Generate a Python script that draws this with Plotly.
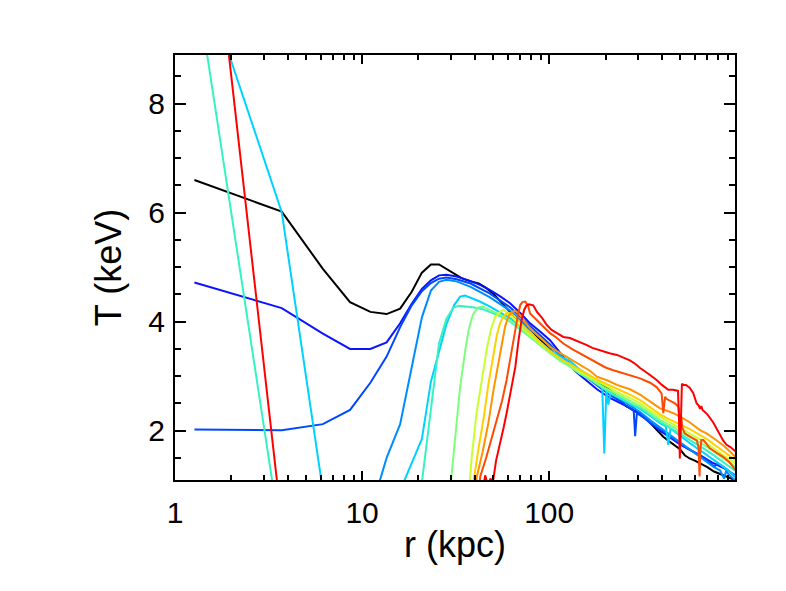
import plotly.graph_objects as go

# radial temperature profiles, r in kpc, T in keV
r_black = [1.27, 3.72, 6.17, 8.62, 11.07, 13.52, 15.97, 18.42, 20.87, 23.32, 25.77, 28.2, 31, 34, 38, 42, 46, 50,
           56, 64, 72, 80, 90, 101, 114, 128, 146, 165, 187, 205, 220, 240, 258, 280, 306, 340, 375, 407, 440,
           470, 500, 530, 563, 600, 640, 700, 760, 830, 900, 990]
t_black = [6.60, 6.02, 4.97, 4.36, 4.18, 4.14, 4.24, 4.55, 4.90, 5.05, 5.05, 4.97, 4.88, 4.80, 4.74, 4.70, 4.62, 4.52,
           4.34, 4.12, 3.98, 3.84, 3.66, 3.50, 3.32, 3.20, 3.06, 2.98, 2.88, 2.78, 2.69, 2.56, 2.45, 2.38, 2.31, 2.17,
           2.02, 1.89, 1.80, 1.72, 1.66, 1.55, 1.49, 1.45, 1.40, 1.33, 1.25, 1.20, 1.15, 1.09]

r_blue1 = [1.27, 3.72, 6.17, 8.62, 11.07, 13.52, 15.97, 18.42, 20.87, 23.32, 25.77, 28.2, 32, 37.8, 43, 48.3, 55,
           61.8, 70, 79, 90, 101, 115, 129, 140, 160, 180, 211, 240, 270, 306, 350, 391, 450, 500, 570, 640, 740,
           850, 990]
t_blue1 = [4.72, 4.25, 3.78, 3.50, 3.50, 3.62, 3.97, 4.33, 4.60, 4.76, 4.85, 4.86, 4.83, 4.75, 4.67, 4.58, 4.46,
           4.34, 4.16, 3.97, 3.81, 3.66, 3.42, 3.20, 3.07, 2.90, 2.76, 2.60, 2.50, 2.42, 2.30, 2.13, 2.00, 1.86,
           1.75, 1.64, 1.55, 1.42, 1.32, 1.18]

r_blue2 = [1.27, 3.72, 6.17, 8.62, 11.07, 13.52, 15.97, 18.42, 20.87, 23.32, 25.77, 28.2, 32, 38, 48, 62, 79, 101,
           130, 155, 180, 210, 240, 270, 283, 288, 294, 320, 350, 391, 450, 500, 560, 640, 700, 760, 800, 900, 990]
t_blue2 = [2.02, 2.01, 2.12, 2.38, 2.88, 3.36, 3.90, 4.30, 4.56, 4.71, 4.79, 4.81, 4.78, 4.70, 4.52, 4.26, 3.92,
           3.58, 3.20, 3.00, 2.82, 2.66, 2.54, 2.40, 2.36, 1.90, 2.32, 2.24, 2.13, 2.03, 1.88, 1.76, 1.66, 1.54,
           1.46, 1.34, 1.40, 1.28, 1.15]

r_lblue = [11.07, 13.52, 15.97, 18.42, 20.87, 23.32, 25.77, 28.2, 32, 38, 48, 62, 79, 101, 130, 155, 180, 210, 240,
           270, 306, 350, 391, 430, 470, 520, 580, 640, 700, 760, 820, 860, 880, 920, 990]
t_lblue = [0.5, 1.50, 2.12, 3.15, 4.08, 4.57, 4.73, 4.77, 4.74, 4.64, 4.45, 4.20, 3.86, 3.55, 3.22, 3.02, 2.86,
           2.70, 2.58, 2.46, 2.34, 2.18, 2.06, 1.96, 1.86, 1.74, 1.62, 1.52, 1.42, 1.33, 1.27, 1.12, 1.25, 1.18, 1.08]

r_cyan = [1.27, 3.72, 6.17, 8.62, 11.07, 13.52, 15.97, 18.42, 20.87, 23.32, 25.77, 28.2, 31, 33.4, 35.5, 38, 42, 48,
          55, 62, 70, 79, 90, 101, 115, 129, 146, 165, 185, 192, 197, 202, 207, 213, 230, 260, 306, 350, 391, 420,
          433, 445, 500, 570, 640, 700, 760, 850, 990]
t_cyan = [10.8, 6.01, 0.9, 0.0, 0.0, 0.0, 0.9, 1.4, 1.85, 2.9, 3.45, 3.95, 4.30, 4.46, 4.48, 4.44, 4.38, 4.28,
          4.16, 4.06, 3.92, 3.78, 3.62, 3.48, 3.36, 3.28, 3.12, 3.00, 2.86, 2.80, 1.58, 2.74, 2.48, 2.70, 2.62,
          2.52, 2.40, 2.26, 2.14, 2.08, 1.74, 2.04, 1.90, 1.76, 1.64, 1.55, 1.46, 1.34, 1.16]

r_aqua = [1.27, 3.72, 6.17, 18.42, 20.87, 23.32, 25.77, 28.2, 30.8, 33, 36, 40, 44, 48, 55, 62, 70, 79, 90, 101,
          115, 129, 146, 165, 185, 210, 240, 270, 306, 350, 391, 430, 470, 500, 570, 640, 700, 780, 860, 990]
t_aqua = [10.43, -0.07, -0.5, -1.0, 1.05, 2.44, 3.60, 4.05, 4.26, 4.29, 4.28, 4.26, 4.23, 4.18, 4.10, 4.00, 3.86,
          3.72, 3.56, 3.42, 3.28, 3.18, 3.04, 2.94, 2.82, 2.70, 2.60, 2.50, 2.42, 2.28, 2.16, 2.08, 2.00, 1.94,
          1.82, 1.72, 1.63, 1.52, 1.42, 1.26]

r_green = [28.2, 31, 33.4, 35.5, 37.1, 39, 41.5, 44, 48, 55, 62, 70, 79, 90, 101, 115, 129, 146, 165, 185, 210,
           240, 270, 306, 350, 391, 430, 470, 500, 570, 640, 700, 780, 860, 990]
t_green = [0.2, 1.6, 2.8, 3.45, 3.85, 4.12, 4.26, 4.28, 4.22, 4.12, 4.02, 3.88, 3.72, 3.56, 3.42, 3.28, 3.18, 3.05,
           2.95, 2.84, 2.74, 2.64, 2.55, 2.45, 2.32, 2.20, 2.12, 2.05, 1.98, 1.88, 1.78, 1.70, 1.58, 1.48, 1.34]

r_ygreen = [35.5, 38.5, 40.9, 43.6, 46.6, 49, 51.5, 54.6, 57, 62, 70, 79, 90, 101, 115, 129, 146, 165, 185, 210,
            240, 270, 306, 350, 391, 430, 470, 500, 570, 640, 700, 780, 860, 990]
t_ygreen = [0.0, 1.5, 2.32, 2.93, 3.54, 3.88, 4.09, 4.18, 4.22, 4.12, 3.92, 3.76, 3.60, 3.45, 3.32, 3.22, 3.08,
            2.98, 2.88, 2.78, 2.68, 2.60, 2.50, 2.36, 2.25, 2.17, 2.10, 2.05, 1.94, 1.84, 1.76, 1.64, 1.54, 1.40]

r_yellow = [37, 39.5, 42, 44.5, 47.3, 50.4, 52.5, 54.6, 57, 59.2, 62, 66, 72, 79, 90, 101, 115, 129, 146, 165, 185,
            210, 240, 270, 306, 350, 391, 430, 470, 500, 570, 640, 700, 780, 860, 990]
t_yellow = [0.0, 1.1, 1.7, 2.2, 2.85, 3.42, 3.75, 3.97, 4.10, 4.15, 4.16, 4.08, 3.94, 3.80, 3.62, 3.46, 3.32, 3.22,
            3.12, 3.02, 2.92, 2.83, 2.74, 2.66, 2.56, 2.42, 2.30, 2.22, 2.16, 2.12, 2.02, 1.92, 1.84, 1.72, 1.62, 1.46]

r_orange = [38.5, 41, 44, 47.3, 50.4, 53.5, 56, 58.1, 60.5, 63.3, 66, 70, 74, 79, 90, 101, 110, 119, 132, 146, 165,
            180, 205, 230, 270, 306, 350, 391, 430, 470, 500, 560, 640, 700, 780, 860, 990]
t_orange = [0.0, 1.15, 1.6, 2.14, 2.75, 3.24, 3.62, 3.91, 4.10, 4.18, 4.20, 4.12, 4.00, 3.88, 3.70, 3.54, 3.46,
            3.39, 3.30, 3.21, 3.10, 2.99, 2.92, 2.84, 2.76, 2.66, 2.52, 2.41, 2.36, 2.31, 2.26, 2.16, 2.01, 1.94,
            1.83, 1.72, 1.52]

r_ored = [40, 42.8, 46, 49, 52.5, 56, 59.2, 62.5, 65.9, 68, 70.1, 72, 74.4, 77, 79, 86, 92, 101, 110, 119, 132, 146,
          162, 180, 200, 220, 245, 270, 306, 346, 375, 391, 399, 407, 416, 425, 450, 470, 490, 496, 500, 506, 515,
          530, 560, 589, 615, 628, 636, 642, 650, 667, 700, 720, 780, 850, 920, 990]
t_ored = [0.0, 1.16, 1.5, 1.85, 2.2, 2.55, 2.93, 3.40, 3.85, 4.12, 4.31, 4.36, 4.37, 4.30, 4.15, 4.02, 3.93, 3.79,
          3.70, 3.60, 3.50, 3.42, 3.33, 3.24, 3.16, 3.11, 3.06, 3.02, 2.96, 2.88, 2.80, 2.72, 2.68, 2.32, 2.62, 2.58,
          2.54, 2.50, 2.44, 2.30, 1.60, 2.30, 2.05, 1.95, 1.90, 1.86, 1.82, 1.70, 1.16, 1.60, 1.83, 1.83, 1.74, 1.68,
          1.60, 1.52, 1.42, 1.28]

r_red = [1.27, 3.72, 6.17, 44, 45.5, 47, 48.5, 50, 52, 54.6, 57, 59.2, 62, 65.9, 68.5, 71.2, 73.5, 75.7, 78, 82.2,
         86, 92, 97, 103, 110, 119, 129, 146, 159, 170, 187, 210, 230, 250, 270, 290, 306, 340, 375, 400, 433, 460,
         488, 494, 499, 505, 512, 521, 538, 563, 589, 614, 630, 640, 650, 660, 700, 753, 800, 850, 887, 930, 990]
t_red = [14.5, 0.3, -0.5, 0.9, 1.18, 1.0, 1.12, 1.05, 1.45, 1.75, 2.05, 2.32, 2.72, 3.17, 3.65, 4.03, 4.22, 4.30,
         4.32, 4.30, 4.18, 4.06, 3.94, 3.85, 3.79, 3.72, 3.70, 3.63, 3.57, 3.52, 3.47, 3.42, 3.39, 3.34, 3.29, 3.22,
         3.15, 3.04, 2.93, 2.84, 2.75, 2.75, 2.73, 2.20, 1.49, 2.10, 2.86, 2.84, 2.84, 2.79, 2.69, 2.50, 2.46, 2.40,
         2.45, 2.38, 2.30, 2.15, 1.98, 1.82, 1.74, 1.70, 1.62]

profiles = [
    (r_black, t_black, "#000000"),
    (r_blue1, t_blue1, "#0a14ff"),
    (r_blue2, t_blue2, "#0048ff"),
    (r_lblue, t_lblue, "#008cff"),
    (r_cyan, t_cyan, "#00d2ff"),
    (r_aqua, t_aqua, "#36f2c2"),
    (r_green, t_green, "#7cff7c"),
    (r_ygreen, t_ygreen, "#c8ff30"),
    (r_yellow, t_yellow, "#ffd000"),
    (r_orange, t_orange, "#ff9200"),
    (r_ored, t_ored, "#ff4a00"),
    (r_red, t_red, "#ff0000"),
]

FONT = "Liberation Sans, Arial, sans-serif"

fig = go.Figure()
for r, t, c in profiles:
    fig.add_trace(go.Scatter(x=r, y=t, mode="lines", line=dict(color=c, width=2),
                             showlegend=False, hoverinfo="skip"))

x_minor = [m * d for d in (1, 10, 100) for m in range(2, 10)]

fig.update_layout(
    width=786, height=591,
    paper_bgcolor="white", plot_bgcolor="white",
    margin=dict(l=167, r=59, t=47, b=119),
    font=dict(family=FONT, size=30, color="black"),
    xaxis=dict(
        type="log", range=[0, 2.993],
        tickvals=[1, 10, 100], ticktext=["1", "10", "100"],
        ticks="inside", ticklen=9, tickwidth=2, tickcolor="black",
        minor=dict(tickvals=x_minor, ticks="inside", ticklen=5, tickwidth=2, tickcolor="black"),
        showline=True, linewidth=2, linecolor="black", mirror="ticks",
        showgrid=False, zeroline=False, ticklabelstandoff=5,
        title=dict(text="r (kpc)", standoff=4),
    ),
    yaxis=dict(
        range=[1.095, 8.894], tickvals=[2, 4, 6, 8],
        ticks="inside", ticklen=11, tickwidth=2, tickcolor="black",
        minor=dict(dtick=0.5, ticks="inside", ticklen=6, tickwidth=2, tickcolor="black"),
        showline=True, linewidth=2, linecolor="black", mirror="ticks",
        showgrid=False, zeroline=False, ticklabelstandoff=2,
        title=dict(text="T (keV)", standoff=16),
    ),
)

fig.write_html("out.html")
